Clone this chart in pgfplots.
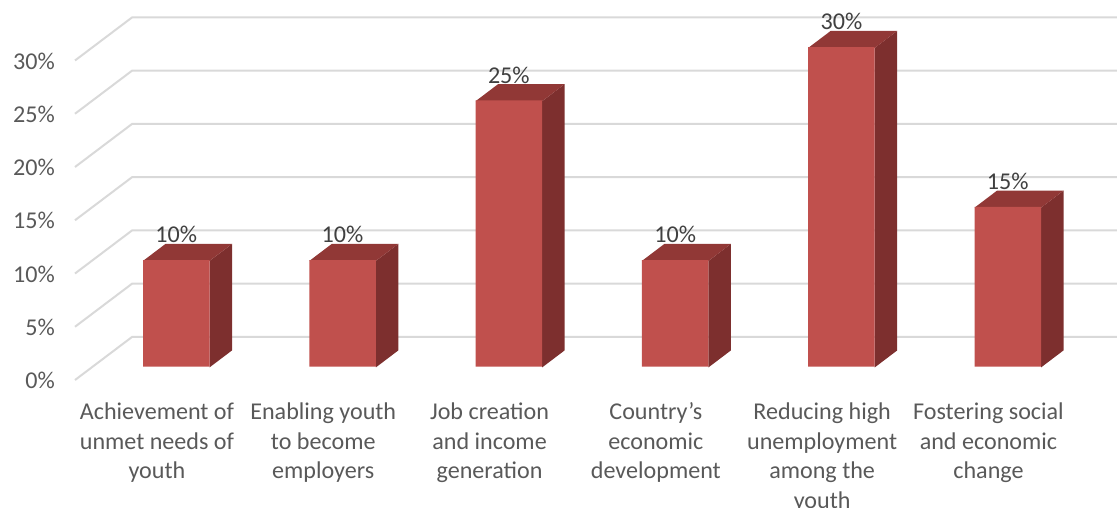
\documentclass[border=0pt]{standalone}
\usepackage{pgfplots}
\usepackage{fontspec}
\setmainfont{Carlito}
\pgfplotsset{compat=1.18}
\definecolor{barfront}{RGB}{192,80,77}
\definecolor{bartop}{RGB}{145,56,54}
\definecolor{barside}{RGB}{125,47,46}
\definecolor{wallgrid}{RGB}{217,217,217}
\definecolor{ticktext}{RGB}{89,89,89}
\definecolor{valuetext}{RGB}{64,64,64}
\begin{document}
\begin{tikzpicture}
\fontsize{24.1}{30}\selectfont
\path[use as bounding box] (-62pt,-112pt) rectangle (1055pt,395pt);
\begin{axis}[
  scale only axis,
  width=1055pt, height=395pt,
  xmin=62, xmax=1117,
  ymin=-2.657, ymax=34.43,
  clip=false,
  axis line style={draw=none},
  major tick style={draw=none},
  ytick={0,5,10,15,20,25,30},
  yticklabel={\pgfmathprintnumber{\tick}\%},
  yticklabel style={text=ticktext,anchor=east,inner sep=0pt,xshift=-7pt,yshift=-13.8pt},
  /pgf/number format/assume math mode=true,
  xtick={176.25,342.55,508.85,675.15,841.45,1007.75},
  xticklabels={
    {\strut Achievement of\\unmet needs of\\youth},
    {\strut Enabling youth\\to become\\employers},
    {\strut Job creation\\and income\\generation},
    {\strut Country’s\\economic\\development},
    {\strut Reducing high\\unemployment\\among the\\youth},
    {\strut Fostering social\\and economic\\change}},
  xticklabel style={text=ticktext,align=center,anchor=north,inner sep=0pt,xshift=-19.3pt,yshift=-3.5pt},
  tick label style={font=\fontsize{24.1}{29.6}\selectfont},
]
% Wall gridlines: front edge, back corner, then along the back wall
\pgfplotsinvokeforeach{0,5,10,15,20,25,30}{
  \addplot[wallgrid,line width=2pt,forget plot] coordinates {(75,#1-1.25) (132,#1+2.79) (1117,#1+2.79)};
}
% Side and top faces of the boxes
\addplot[barside,fill=barside,draw=none,forget plot] coordinates {(209.5,-0.07) (232,1.53) (232,11.53) (209.5,9.93)} -- cycle;
\addplot[bartop,fill=bartop,draw=none,forget plot] coordinates {(143,9.93) (165.5,11.53) (232,11.53) (209.5,9.93)} -- cycle;
\addplot[barside,fill=barside,draw=none,forget plot] coordinates {(375.8,-0.07) (398.3,1.53) (398.3,11.53) (375.8,9.93)} -- cycle;
\addplot[bartop,fill=bartop,draw=none,forget plot] coordinates {(309.3,9.93) (331.8,11.53) (398.3,11.53) (375.8,9.93)} -- cycle;
\addplot[barside,fill=barside,draw=none,forget plot] coordinates {(542.1,-0.07) (564.6,1.53) (564.6,26.53) (542.1,24.93)} -- cycle;
\addplot[bartop,fill=bartop,draw=none,forget plot] coordinates {(475.6,24.93) (498.1,26.53) (564.6,26.53) (542.1,24.93)} -- cycle;
\addplot[barside,fill=barside,draw=none,forget plot] coordinates {(708.4,-0.07) (730.9,1.53) (730.9,11.53) (708.4,9.93)} -- cycle;
\addplot[bartop,fill=bartop,draw=none,forget plot] coordinates {(641.9,9.93) (664.4,11.53) (730.9,11.53) (708.4,9.93)} -- cycle;
\addplot[barside,fill=barside,draw=none,forget plot] coordinates {(874.7,-0.07) (897.2,1.53) (897.2,31.53) (874.7,29.93)} -- cycle;
\addplot[bartop,fill=bartop,draw=none,forget plot] coordinates {(808.2,29.93) (830.7,31.53) (897.2,31.53) (874.7,29.93)} -- cycle;
\addplot[barside,fill=barside,draw=none,forget plot] coordinates {(1041,-0.07) (1063.5,1.53) (1063.5,16.53) (1041,14.93)} -- cycle;
\addplot[bartop,fill=bartop,draw=none,forget plot] coordinates {(974.5,14.93) (997,16.53) (1063.5,16.53) (1041,14.93)} -- cycle;
% Front faces, with the value printed above each box
\addplot[ybar,bar width=66.5pt,bar shift=0pt,fill=barfront,draw=none,
  nodes near coords={\pgfmathprintnumber{\pgfplotspointmeta}\%},
  every node near coord/.append style={text=valuetext,anchor=center,yshift=25.5pt,font=\fontsize{24.1}{30}\selectfont},
] coordinates {(176.25,10) (342.55,10) (508.85,25) (675.15,10) (841.45,30) (1007.75,15)};
\end{axis}
\end{tikzpicture}
\end{document}
